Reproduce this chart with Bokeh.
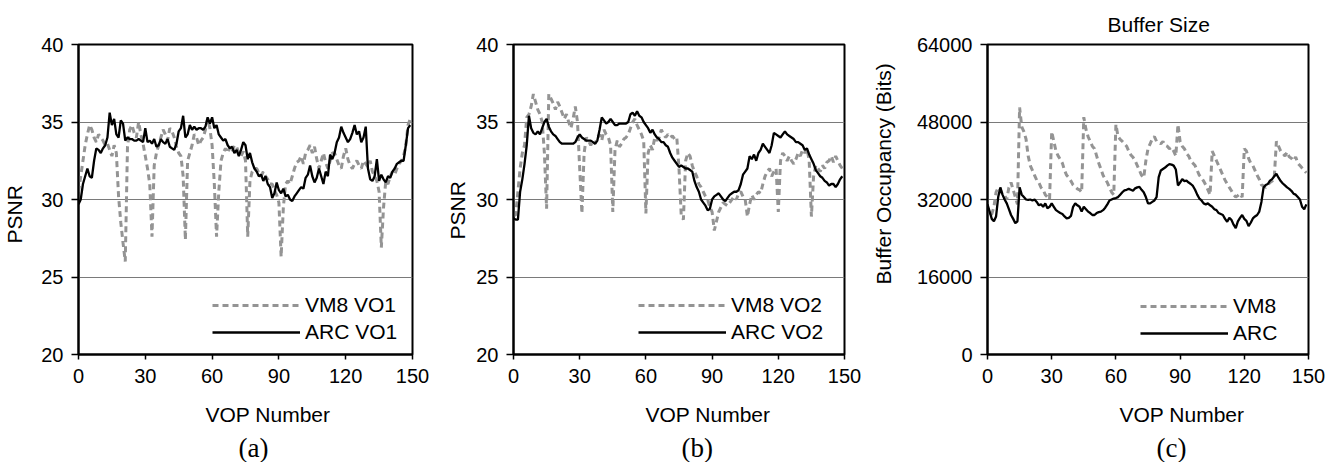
from bokeh.plotting import figure
from bokeh.models import Range1d, FixedTicker, Legend, LegendItem, Title, BasicTickFormatter
from bokeh.layouts import row
from bokeh.embed import file_html
from bokeh.resources import INLINE

vop = list(range(150))
x_ticks = [0, 30, 60, 90, 120, 150]
psnr_ticks = [20, 25, 30, 35, 40]
buf_ticks = [0, 16000, 32000, 48000, 64000]

arc_vo1 = [
    29.7, 30.0, 31.0, 31.5, 32.0, 31.5, 31.4, 32.5, 33.3, 33.2,
    33.0, 33.3, 33.5, 34.0, 35.6, 34.8, 35.2, 34.2, 34.0, 35.1,
    34.9, 33.8, 34.0, 33.9, 33.9, 33.8, 33.8, 33.9, 33.8, 33.7,
    34.6, 33.7, 33.8, 33.6, 33.9, 33.4, 33.5, 33.9, 33.7, 33.6,
    33.9, 33.4, 33.3, 33.2, 33.6, 34.4, 34.6, 35.4, 34.0, 34.2,
    34.8, 34.5, 34.7, 34.5, 34.6, 34.6, 34.5, 34.7, 35.3, 34.9,
    35.3, 34.6, 34.8, 34.2, 34.0, 33.8, 33.9, 33.5, 33.3, 33.4,
    33.0, 33.2, 32.8, 33.2, 33.7, 33.5, 32.6, 33.0, 32.4, 32.0,
    31.8, 31.5, 31.6, 31.2, 31.5, 31.0, 30.8, 30.1, 30.4, 31.1,
    30.6, 30.4, 30.7, 30.2, 30.3, 30.0, 29.9, 30.2, 30.4, 30.6,
    30.8, 30.7, 31.4, 31.6, 32.2, 31.5, 31.1, 31.4, 32.0, 31.5,
    31.0, 31.8, 31.5, 32.9, 32.6, 33.0, 33.7, 34.0, 34.7, 34.3,
    34.0, 33.7, 33.9, 34.3, 34.8, 34.2, 34.4, 33.7, 34.0, 34.7,
    32.0, 31.3, 31.2, 31.5, 32.6, 31.2, 31.6, 31.3, 31.1, 31.5,
    31.4, 31.8, 32.0, 32.3, 32.4, 32.5, 32.5, 33.5, 34.6, 34.8]

vm8_vo1 = [
    30.5, 31.5, 32.5, 33.5, 34.2, 34.8, 34.5, 34.0, 33.7, 34.2,
    34.0, 33.8, 33.5, 33.6, 33.2, 32.8, 33.5, 33.0, 30.2, 28.5,
    27.2, 26.0, 33.4, 34.5, 34.8, 34.3, 34.0, 35.0, 34.2, 33.6,
    32.8, 32.0, 31.0, 27.6, 32.2, 33.0, 33.5, 34.0, 34.5, 34.2,
    33.8, 34.6, 34.4, 34.0, 33.4, 33.0, 32.8, 31.5, 27.4, 32.5,
    33.0, 33.5, 34.2, 34.0, 33.5, 33.8, 34.0, 34.5, 35.2, 34.6,
    33.5, 31.0, 27.6, 30.5, 32.5, 33.0, 33.3, 33.0, 33.4, 33.1,
    33.5, 33.4, 33.0, 32.8, 33.1, 32.5, 27.6, 31.2, 31.8, 32.0,
    32.0, 31.7, 31.5, 31.8, 31.5, 31.3, 31.0, 31.0, 30.6, 30.3,
    29.8, 26.3, 29.5, 31.0, 31.2, 31.0, 31.5, 32.0, 32.4, 32.5,
    32.8, 32.3, 33.0, 33.2, 33.5, 33.0, 33.4, 32.6, 32.0, 32.5,
    33.0, 32.4, 32.0, 32.5, 33.0, 33.0, 32.6, 32.2, 32.0, 32.8,
    33.3, 32.6, 32.2, 32.0, 32.3, 32.5, 32.2, 32.0, 32.5, 32.3,
    32.1, 32.5, 31.8, 31.5, 31.2, 30.5, 26.9, 29.5, 31.2, 31.0,
    31.5, 31.8, 31.6, 32.0, 32.3, 32.5, 32.8, 33.5, 34.8, 35.2]

arc_vo2 = [
    28.8, 28.7, 28.7, 30.5, 31.3, 32.3, 33.5, 35.4, 34.6, 34.3,
    34.2, 34.4, 34.2, 34.6, 35.0, 35.2, 34.7, 34.4, 34.2, 34.1,
    33.9, 33.7, 33.6, 33.6, 33.6, 33.6, 33.6, 33.6, 33.7, 34.0,
    34.2, 34.0, 33.9, 33.8, 33.8, 33.8, 33.7, 33.6, 33.8, 34.5,
    35.3, 35.1, 34.9, 35.0, 35.2, 35.0, 34.8, 34.8, 34.9, 34.9,
    34.9, 34.9, 35.0, 35.5, 35.6, 35.4, 35.7, 35.4, 35.3, 35.0,
    34.8, 34.6, 34.3, 34.5, 34.2, 34.0, 33.9, 33.7, 33.7, 33.5,
    33.4, 33.0, 32.7, 32.5, 32.3, 32.1, 32.2, 32.1, 32.0, 32.0,
    31.9, 31.8, 31.2, 30.8, 30.5, 30.0, 29.8, 29.6, 29.3, 29.4,
    30.0, 30.2, 30.3, 30.4, 30.2, 30.0, 29.9, 30.1, 30.3, 30.4,
    30.5, 30.5, 30.6, 31.0, 31.6, 31.8, 32.0, 32.8, 32.6, 32.9,
    32.5, 33.0, 33.2, 33.6, 33.4, 33.2, 33.0, 33.5, 34.3, 34.2,
    34.1, 34.0, 34.2, 34.4, 34.2, 34.1, 34.0, 33.9, 33.7, 33.7,
    33.6, 33.5, 33.2, 33.3, 32.9, 32.6, 32.3, 31.9, 31.7, 31.5,
    31.4, 31.2, 31.1, 30.9, 31.0, 31.0, 30.8, 31.0, 31.3, 31.5]

vm8_vo2 = [
    29.0, 29.0, 30.5, 32.0, 33.0, 33.5, 35.3, 35.5, 36.0, 36.8,
    36.3, 35.8, 35.5, 35.0, 33.0, 29.4, 36.8, 36.5, 36.2, 35.8,
    36.3, 36.0, 35.6, 35.2, 35.5, 35.0, 34.6, 35.2, 36.0, 35.0,
    32.0, 29.1, 33.0, 34.0, 33.8, 33.5, 33.8, 33.6, 34.0, 34.2,
    33.8, 34.5, 34.2, 34.0, 33.5, 29.2, 33.2, 33.8, 33.4, 33.6,
    33.9, 34.0, 34.2, 34.6, 35.0, 35.2, 34.8, 34.5, 34.2, 33.8,
    29.1, 33.0, 33.5, 33.2, 34.0, 33.8, 34.0, 34.5, 34.2, 34.0,
    34.2, 34.0, 34.1, 33.9, 34.0, 32.0, 29.0, 28.7, 32.5, 33.0,
    32.8, 32.2, 31.8, 31.5, 31.0, 30.8, 30.5, 30.2, 30.0, 29.5,
    29.2, 28.0, 28.6, 29.2, 29.5, 29.8, 29.7, 29.6, 29.8, 30.0,
    30.2, 30.0, 30.4, 30.5, 30.2, 30.0, 28.9, 29.7, 30.3, 30.0,
    30.3, 30.5, 30.4, 31.0, 31.5, 31.8, 32.0, 31.5, 31.8, 32.0,
    29.2, 32.5, 33.0, 32.8, 32.5, 32.8, 32.5, 32.3, 32.6, 33.0,
    32.8, 33.2, 33.0, 33.3, 32.5, 28.9, 31.5, 32.2, 32.0, 31.8,
    32.2, 32.0, 32.4, 32.5, 32.8, 32.4, 32.8, 32.5, 32.2, 32.0]

arc_buf = [
    31000, 29500, 28000, 27500, 28500, 32500, 34500, 33000, 32000, 31200,
    30000, 28800, 28000, 27100, 27500, 34500, 33000, 32500, 32000, 31900,
    32000, 31800, 32000, 31500, 30800, 31000, 30500, 31200, 30200, 30500,
    31200, 30500, 29800, 29500, 29200, 29000, 28500, 28100, 28200, 28600,
    30500, 31200, 30800, 30500, 29500, 30500, 30000, 29500, 29200, 28800,
    28800, 29200, 29400, 29500, 29800, 30300, 31000, 31800, 32000, 32200,
    32300, 32500, 33000, 33500, 33900, 34000, 34200, 34000, 33800, 34300,
    34500, 34600, 34000, 33500, 32500, 31200, 31200, 31500, 31800, 32500,
    36600, 38000, 38300, 38600, 39000, 39300, 39200, 39000, 38200, 34900,
    35500, 36200, 35800, 35900, 35500, 35200, 34800, 34000, 33000, 32200,
    31800, 31200, 31000, 31200, 30800, 30500, 30000, 29800, 29200, 29000,
    28800, 28000, 27400, 28200, 27800, 26800, 26100, 27500, 28200, 28800,
    28000, 27600, 26500, 27200, 28100, 28500, 28800, 29500, 31500, 34500,
    35000, 35200, 35900, 36200, 36800, 37300, 36500, 35800, 35300, 34900,
    34500, 34200, 33800, 33200, 33000, 32500, 32000, 30500, 30000, 31000]

vm8_buf = [
    30000, 28500, 29000, 30500, 33500, 34500, 34000, 33000, 32800, 32000,
    34500, 35500, 34000, 32500, 31000, 51000, 47000, 46000, 44500, 41000,
    39000, 38000, 37000, 36000, 35500, 34500, 34000, 33000, 32500, 32000,
    46000, 44000, 42000, 41000, 40300, 39500, 38000, 37000, 36500, 35800,
    35000, 34600, 34200, 34000, 33500, 49000, 46500, 45000, 44000, 43000,
    42500, 41000, 39500, 38300, 37000, 36200, 35500, 34500, 33500, 33000,
    47500, 45000, 44400, 44000, 43500, 43000, 42000, 41200, 40700, 40000,
    39000, 38000, 37000, 36500, 40000, 42500, 43500, 44500, 45000, 44000,
    43800, 43500, 44000, 43200, 43000, 42500, 42800, 42000, 41000, 47500,
    44000, 43000, 42500, 41500, 41000, 40000, 39500, 39000, 38000, 37000,
    36500, 35800, 35000, 34000, 33000, 42000, 41000, 40000, 39000, 38000,
    37000, 36000, 35200, 34500, 33800, 33000, 32500, 32800, 33200, 32500,
    42500, 42000, 40500, 39500, 39000, 38000, 37000, 36200, 35000, 34800,
    34500, 35000, 35500, 35800, 36500, 44000, 43000, 42000, 41500, 41000,
    41800, 40800, 40500, 40000, 40800, 39500, 39000, 38500, 38000, 37500]

SANS = "Liberation Sans"
SERIF = "Liberation Serif"
GRAY = "#949494"

FRAME_H = 310
TOP = 44
BOTTOM = 108


def make_panel(y_arc, y_vm8, yr, yticks, ylabel, names, tag,
               fw, bl, br, legend_loc,
               xlab_off, tag_off, ylab_off, ylab_standoff, yspacer,
               title=None, title_off=0):
    p = figure(frame_width=fw, frame_height=FRAME_H, width=None, height=None,
               min_border_left=bl, min_border_right=br, min_border_top=TOP, min_border_bottom=BOTTOM,
               x_range=Range1d(0, 150), y_range=Range1d(*yr),
               toolbar_location=None, output_backend="svg")
    p.title.visible = False
    p.background_fill_color = "white"
    p.border_fill_color = "white"
    p.outline_line_color = "black"
    p.outline_line_width = 2
    p.outline_line_alpha = 1
    p.xgrid.visible = False
    p.ygrid.grid_line_color = "#7a7a7a"
    p.ygrid.grid_line_width = 1
    p.xaxis.ticker = FixedTicker(ticks=x_ticks)
    p.yaxis.ticker = FixedTicker(ticks=yticks)
    if yr[1] > 1000:
        p.yaxis.formatter = BasicTickFormatter(use_scientific=False)
    for ax in (p.xaxis[0], p.yaxis[0]):
        ax.axis_line_color = "black"
        ax.axis_line_width = 2
        ax.major_tick_line_color = "black"
        ax.major_tick_line_width = 1.5
        ax.major_tick_in = 0
        ax.minor_tick_line_color = None
        ax.major_label_text_font = SANS
        ax.major_label_text_font_size = "20px"
        ax.major_label_text_color = "black"
    p.yaxis.major_tick_out = 7
    p.yaxis.major_label_standoff = 8
    p.xaxis.major_tick_out = 5
    p.xaxis.major_label_standoff = 9
    # spacing between tick labels and the "VOP Number" caption
    p.xaxis.axis_label = " "
    p.xaxis.axis_label_text_font_size = "1px"
    p.xaxis.axis_label_standoff = 6
    if yspacer:
        p.yaxis.axis_label = " "
        p.yaxis.axis_label_text_font_size = "1px"
        p.yaxis.axis_label_standoff = yspacer

    r_vm8 = p.line(vop, y_vm8, line_color=GRAY, line_width=3, line_dash="6 4")
    r_arc = p.line(vop, y_arc, line_color="black", line_width=2.3)

    leg = Legend(items=[LegendItem(label=names[0], renderers=[r_vm8]),
                        LegendItem(label=names[1], renderers=[r_arc])],
                 location=legend_loc, glyph_width=88, glyph_height=24, label_height=24,
                 label_text_font=SANS, label_text_font_size="21px", label_text_color="black",
                 label_standoff=5, spacing=3, padding=0, margin=0, border_line_alpha=0,
                 background_fill_alpha=0)
    p.add_layout(leg)

    p.add_layout(Title(text=ylabel, align="left", offset=ylab_off, text_font=SANS,
                       text_font_size="21px", text_font_style="normal", text_color="black",
                       standoff=ylab_standoff), "left")
    p.add_layout(Title(text="VOP Number", align="left", offset=xlab_off, text_font=SANS,
                       text_font_size="21px", text_font_style="normal", text_color="black",
                       standoff=10), "below")
    p.add_layout(Title(text=tag, align="left", offset=tag_off, text_font=SERIF,
                       text_font_size="27px", text_font_style="normal", text_color="black",
                       standoff=0), "below")
    if title:
        p.add_layout(Title(text=title, align="left", offset=title_off, text_font=SANS,
                           text_font_size="21px", text_font_style="normal", text_color="black",
                           standoff=18), "above")
    return p


pa = make_panel(arc_vo1, vm8_vo1, (20, 40), psnr_ticks, "PSNR", ("VM8 VO1", "ARC VO1"), "(a)",
                334, 78, 23, (134, 10), 127, 160, 111, 0, 9)
pb = make_panel(arc_vo2, vm8_vo2, (20, 40), psnr_ticks, "PSNR", ("VM8 VO2", "ARC VO2"), "(b)",
                331, 78, 24, (125, 10), 132, 168, 115, 10, 0)
pc = make_panel(arc_buf, vm8_buf, (0, 64000), buf_ticks, "Buffer Occupancy (Bits)", ("VM8", "ARC"), "(c)",
                321, 119, 21, (153, 9), 132, 169, 70, 2, 14,
                title="Buffer Size", title_off=120)

layout = row(pa, pb, pc, spacing=0)
open("out.html", "w").write(file_html(layout, INLINE))
